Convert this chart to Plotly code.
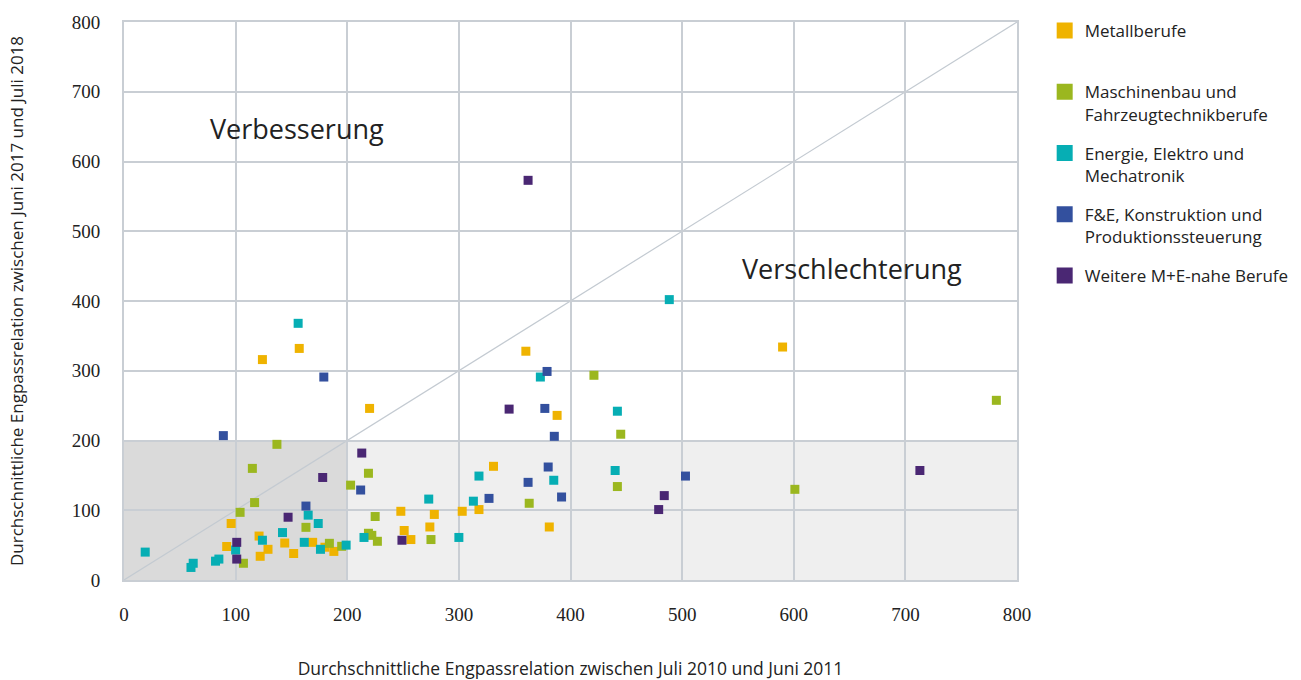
import plotly.graph_objects as go

# ---- data ----
metall_x = [124, 157, 220, 360, 388, 590, 331, 318, 303, 278, 248, 251, 274, 381, 257, 96, 92, 121, 144, 169, 180, 188, 129, 152, 122]
metall_y = [316, 332, 246, 328, 236, 334, 163, 101, 98.5, 94, 98.5, 71, 76, 76, 58, 81, 48, 63, 53, 54, 47, 41, 44, 38, 34]

masch_x = [137, 115, 203, 117, 104, 163, 184, 195, 107, 219, 225, 219, 222, 227, 275, 363, 421, 445, 442, 601, 781.5]
masch_y = [194.5, 160, 136, 111, 97, 75.5, 52.6, 48.3, 24, 153, 91, 67, 64, 55.5, 58, 110, 293.5, 209, 134, 130, 257.6]

energie_x = [19, 62, 60, 82, 85, 100, 124, 142, 165, 174, 161.5, 176, 199, 215, 156, 273, 313, 300, 318, 373, 385, 440, 442, 488.5]
energie_y = [40, 24, 18, 27, 30, 43, 57, 68, 93, 81, 54, 44, 50, 61, 368, 116, 113, 61, 149, 291, 143, 157, 242, 402]

fe_x = [89, 163, 179, 212, 327, 362, 377, 379, 380, 385.5, 392, 503]
fe_y = [207, 106, 291, 129, 117, 140, 246, 299, 162, 206, 119, 149]

weitere_x = [101, 101, 147, 178, 213, 249, 345, 362, 479, 484, 713]
weitere_y = [54, 30, 90, 147, 182, 57, 245, 573, 101, 121, 157]

series = [
    ("Metallberufe<br> ", metall_x, metall_y, "#EFB300"),
    ("Maschinenbau und<br>Fahrzeugtechnikberufe", masch_x, masch_y, "#9BB71F"),
    ("Energie, Elektro und<br>Mechatronik", energie_x, energie_y, "#06AEB4"),
    ("F&E, Konstruktion und<br>Produktionssteuerung", fe_x, fe_y, "#33509E"),
    ("Weitere M+E-nahe Berufe", weitere_x, weitere_y, "#4A2773"),
]

ticks = [0, 100, 200, 300, 400, 500, 600, 700, 800]
x_title = "Durchschnittliche Engpassrelation zwischen Juli 2010 und Juni 2011"
y_title = "Durchschnittliche Engpassrelation zwischen Juni 2017 und Juli 2018"

SANS = "Open Sans"
SERIF = "Liberation Serif"
GRID = "#C9CED4"
TXT = "#222222"

fig = go.Figure()
for i, (name, xs, ys, col) in enumerate(series):
    fig.add_trace(go.Scatter(x=xs, y=ys, mode="markers", name=name, showlegend=False,
                             marker=dict(symbol="square", size=9, color=col, line=dict(width=0)),
                             hoverinfo="x+y+name"))
for i, (name, xs, ys, col) in enumerate(series):
    fig.add_trace(go.Scatter(x=[None], y=[None], mode="markers", name=name, legendgroup=str(i),
                             marker=dict(symbol="square", size=16, color=col)))

fig.add_shape(type="rect", xref="x", yref="y", x0=200, y0=0, x1=800, y1=200,
              fillcolor="#EFEFEF", line=dict(width=0), layer="below")
fig.add_shape(type="rect", xref="x", yref="y", x0=0, y0=0, x1=200, y1=200,
              fillcolor="#DADADA", line=dict(width=0), layer="below")
fig.add_shape(type="line", xref="x", yref="y", x0=0, y0=0, x1=800, y1=800,
              line=dict(color="#C3CAD1", width=1.2), layer="below")

fig.add_annotation(x=155, y=648, xref="x", yref="y", text="Verbesserung", showarrow=False,
                   font=dict(family=SANS, size=27, color=TXT))
fig.add_annotation(x=652, y=447, xref="x", yref="y", text="Verschlechterung", showarrow=False,
                   font=dict(family=SANS, size=27, color=TXT))

axis_common = dict(range=[0, 800], tickvals=ticks, showgrid=True, gridcolor=GRID, gridwidth=2,
                   zeroline=False, showline=True, linecolor=GRID, linewidth=2, mirror=True,
                   tickfont=dict(family=SERIF, size=19, color=TXT), ticks="")
fig.update_xaxes(**axis_common, ticklabelstandoff=16,
                 title=dict(text=x_title, font=dict(family=SANS, size=17.5, color=TXT), standoff=46))
fig.update_yaxes(**axis_common, ticklabelstandoff=18,
                 title=dict(text=y_title, font=dict(family=SANS, size=17, color=TXT), standoff=44))

fig.update_layout(
    width=1301, height=680,
    margin=dict(l=124, r=284, t=22, b=100, autoexpand=False),
    paper_bgcolor="white", plot_bgcolor="white",
    showlegend=True,
    legend=dict(x=1.031, y=1.016, xanchor="left", yanchor="top", valign="top",
                font=dict(family=SANS, size=17, color=TXT),
                tracegroupgap=14, itemsizing="trace", bgcolor="rgba(0,0,0,0)"),
)

fig.write_html("out.html", config={"displayModeBar": False},
               post_script="document.body.style.margin='0';")
